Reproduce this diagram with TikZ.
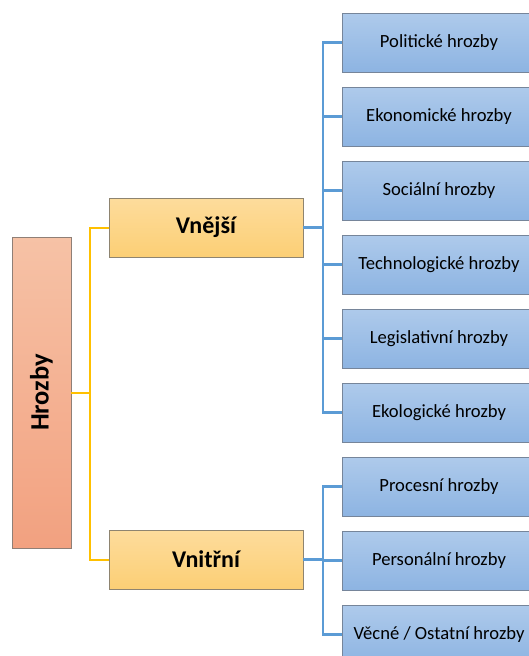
\documentclass[tikz,border=0pt]{standalone}
\usepackage{fontspec}
\setmainfont{Carlito}
\usepackage{graphicx}
\begin{document}
\begin{tikzpicture}[x=1pt,y=-1pt,
  rootbox/.style={draw=rootedge,line width=0.9pt,top color=roottop,bottom color=rootbot,
    minimum width=59pt,minimum height=311pt,inner sep=0pt,
    font=\fontsize{26.5}{30}\selectfont\bfseries},
  groupbox/.style={draw=groupedge,line width=0.9pt,top color=grouptop,bottom color=groupbot,
    minimum width=194pt,minimum height=59pt,inner sep=0pt,
    font=\fontsize{24}{28}\selectfont\bfseries},
  leafbox/.style={draw=leafedge,line width=0.9pt,top color=leaftop,bottom color=leafbot,
    minimum width=194pt,minimum height=59pt,inner sep=0pt,
    font=\fontsize{18.6}{22}\selectfont},
  yline/.style={draw=ylw,line width=2pt},
  bline/.style={draw=blu,line width=2.4pt}]
\definecolor{rootedge}{HTML}{8F7F76}
\definecolor{roottop}{HTML}{F6C2A6}
\definecolor{rootbot}{HTML}{F2A180}
\definecolor{groupedge}{HTML}{8E8470}
\definecolor{grouptop}{HTML}{FDDC9C}
\definecolor{groupbot}{HTML}{FCCF75}
\definecolor{leafedge}{HTML}{76859A}
\definecolor{leaftop}{HTML}{AECAEB}
\definecolor{leafbot}{HTML}{8DB4E2}
\definecolor{ylw}{HTML}{FFC000}
\definecolor{blu}{HTML}{5B9BD5}
\useasboundingbox (0,0) rectangle (529,656);
\clip (0,0) rectangle (529,656);

% root and the two groups
\node[rootbox] (root) at (41.5,392.5) {\rotatebox{90}{Hrozby}};
\node[groupbox] (ext) at (206,227.5) {Vnější};
\node[groupbox] (int) at (206,559.5) {Vnitřní};

% leaves
\foreach \n/\t [count=\k from 0] in {
  l1/{Politické hrozby}, l2/{Ekonomické hrozby}, l3/{Sociální hrozby},
  l4/{Technologické hrozby}, l5/{Legislativní hrozby}, l6/{Ekologické hrozby},
  l7/{Procesní hrozby}, l8/{Personální hrozby}, l9/{Věcné / Ostatní hrozby}}
  \node[leafbox] (\n) at (439,42.5+74*\k) {\t};

% root to groups
\coordinate (yj) at (90,392.5);
\draw[yline] (root.east) -- (yj);
\draw[yline] (yj) |- (ext.west);
\draw[yline] (yj) |- (int.west);

% groups to leaves
\coordinate (ej) at (323,227.5);
\coordinate (ij) at (323,559.5);
\draw[bline] (ext.east) -- (ej);
\draw[bline] (int.east) -- (ij);
\foreach \n in {l1,l2,l3,l4,l5,l6}
  \draw[bline] (ej) |- (\n.west);
\foreach \n in {l7,l8,l9}
  \draw[bline] (ij) |- (\n.west);
\end{tikzpicture}
\end{document}
